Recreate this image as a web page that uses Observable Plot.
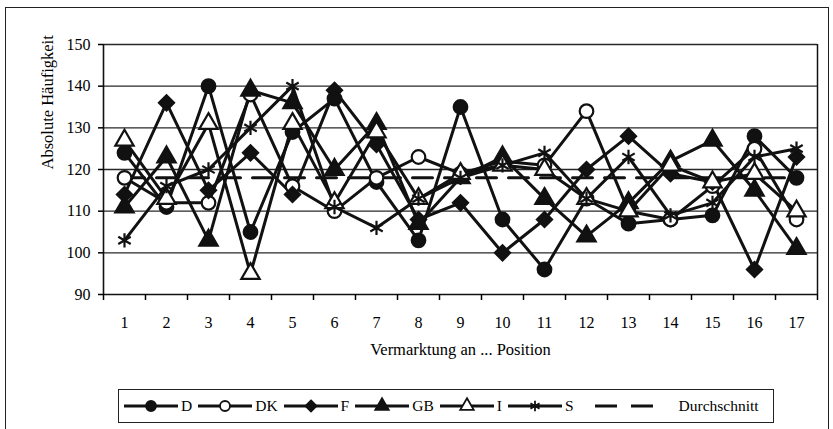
<!DOCTYPE html>
<html><head><meta charset="utf-8">
<script src="https://cdn.jsdelivr.net/npm/d3@7"></script>
<script src="https://cdn.jsdelivr.net/npm/@observablehq/plot@0.6"></script>
<style>
body{margin:0;background:#fff;}
#wrap{position:relative;width:833px;height:429px;overflow:hidden;font-family:"Liberation Serif","Times New Roman",serif;color:#000;}
#frame{position:absolute;left:5px;top:7px;width:822px;height:460px;border:1.5px solid #222;}
#chart{position:absolute;left:0;top:0;}
#legend{position:absolute;left:118px;top:389px;width:656px;height:34px;border:1.5px solid #222;box-sizing:border-box;display:flex;align-items:center;padding-left:4px;font-size:15.5px;}
.item{display:flex;align-items:center;margin-right:5px;}
.item span{margin-left:2px;}
</style></head>
<body><div id="wrap"><div id="frame"></div><div id="chart"></div><div id="legend"></div></div>
<script>
const positions = [1,2,3,4,5,6,7,8,9,10,11,12,13,14,15,16,17];
const D  = [124,111,140,105,129,137,117,103,135,108, 96,113,107,108,109,128,118];
const DK = [118,112,112,138,116,110,118,123,119,122,121,134,110,108,116,125,108];
const F  = [114,136,115,124,114,139,126,108,112,100,108,120,128,119,117, 96,123];
const GB = [111,123,103,139,136,120,131,107,118,123,113,104,112,122,127,115,101];
const I  = [127,113,131, 95,131,112,129,113,119,121,120,113,110,121,117,119,110];
const S  = [103,116,120,130,140,111,106,113,118,121,124,113,123,109,112,123,125];
const durchschnitt = 118;
const seriesNames = ["D","DK","F","GB","I","S"];
const seriesValues = [D, DK, F, GB, I, S];
const yTicks = [90,100,110,120,130,140,150];
const xTitle = "Vermarktung an ... Position";
const yTitle = "Absolute Häufigkeit";
const avgLabel = "Durchschnitt";

// styles
const symbolRange = ["circle","circle","diamond2","triangle","triangle","asterisk"];
const fillRange = ["#111","#fff","#111","#111","#fff","#111"];

const rows = [];
seriesNames.forEach((s, i) => positions.forEach((p, j) => rows.push({series: s, pos: p, value: seriesValues[i][j]})));
const avgRows = positions.map(p => ({pos: p, value: durchschnitt}));
const boundaries = [0, ...positions].map(p => p + 0.5);

const ink = "#111";
const chart = Plot.plot({
  width: 833, height: 429,
  marginLeft: 103, marginRight: 16, marginTop: 44, marginBottom: 135,
  style: {fontFamily: '"Liberation Serif","Times New Roman",serif', fontSize: "16px", color: "#000", background: "transparent", overflow: "visible"},
  x: {type: "linear", domain: [0.5, 17.5]},
  y: {domain: [90, 150]},
  symbol: {domain: seriesNames, range: symbolRange},
  color: {domain: seriesNames, range: fillRange},
  marks: [
    Plot.gridY(yTicks.slice(1), {stroke: ink, strokeOpacity: 0.9, strokeWidth: 1.3}),
    Plot.ruleX([17.5], {stroke: ink, strokeWidth: 1.5}),
    Plot.ruleX([0.5], {stroke: ink, strokeWidth: 1.6}),
    Plot.ruleY([90], {stroke: ink, strokeWidth: 1.6}),
    Plot.axisY({ticks: yTicks, tickSize: 5, tickPadding: 8, label: null, strokeWidth: 1.5}),
    Plot.axisX({ticks: boundaries, tickSize: 6, tickFormat: () => "", label: null, strokeWidth: 1.5}),
    Plot.axisX({ticks: positions, tickSize: 0, tickPadding: 22, tickFormat: d => String(d), label: null}),
    Plot.text([yTitle], {frameAnchor: "left", dx: -56, rotate: -90, fontSize: 16.5, fill: "#000"}),
    Plot.text([xTitle], {frameAnchor: "bottom", dy: 60, fontSize: 16.5, fill: "#000"}),
    Plot.line(rows, {x: "pos", y: "value", z: "series", stroke: ink, strokeWidth: 3}),
    Plot.line(avgRows, {x: "pos", y: "value", stroke: ink, strokeWidth: 3, strokeDasharray: "20,12"}),
    Plot.dot(rows, {x: "pos", y: "value", symbol: "series", fill: "series", stroke: ink, strokeWidth: 2.2, r: 6.8})
  ]
});
document.getElementById("chart").appendChild(chart);

// legend
const legend = d3.select("#legend");
const symMap = {circle: d3.symbolCircle, diamond2: d3.symbolDiamond2, triangle: d3.symbolTriangle, asterisk: d3.symbolAsterisk};
seriesNames.forEach((s, i) => {
  const it = legend.append("div").attr("class", "item");
  const svg = it.append("svg").attr("width", 56).attr("height", 20);
  svg.append("line").attr("x1", 1).attr("x2", 55).attr("y1", 10).attr("y2", 10).attr("stroke", ink).attr("stroke-width", 2.8);
  const r = 5;
  svg.append("path").attr("transform", "translate(28,10)")
    .attr("d", d3.symbol(symMap[symbolRange[i]], Math.PI * r * r)())
    .attr("fill", symbolRange[i] === "asterisk" ? "none" : fillRange[i])
    .attr("stroke", ink).attr("stroke-width", 1.8);
  it.append("span").text(s);
});
const av = legend.append("div").attr("class", "item");
const asvg = av.append("svg").attr("width", 62).attr("height", 20).style("margin-left", "14px");
asvg.append("line").attr("x1", 2).attr("x2", 60).attr("y1", 10).attr("y2", 10).attr("stroke", ink).attr("stroke-width", 3).attr("stroke-dasharray", "22,14");
av.append("span").text(avgLabel).style("margin-left", "24px");
</script>
</body></html>
